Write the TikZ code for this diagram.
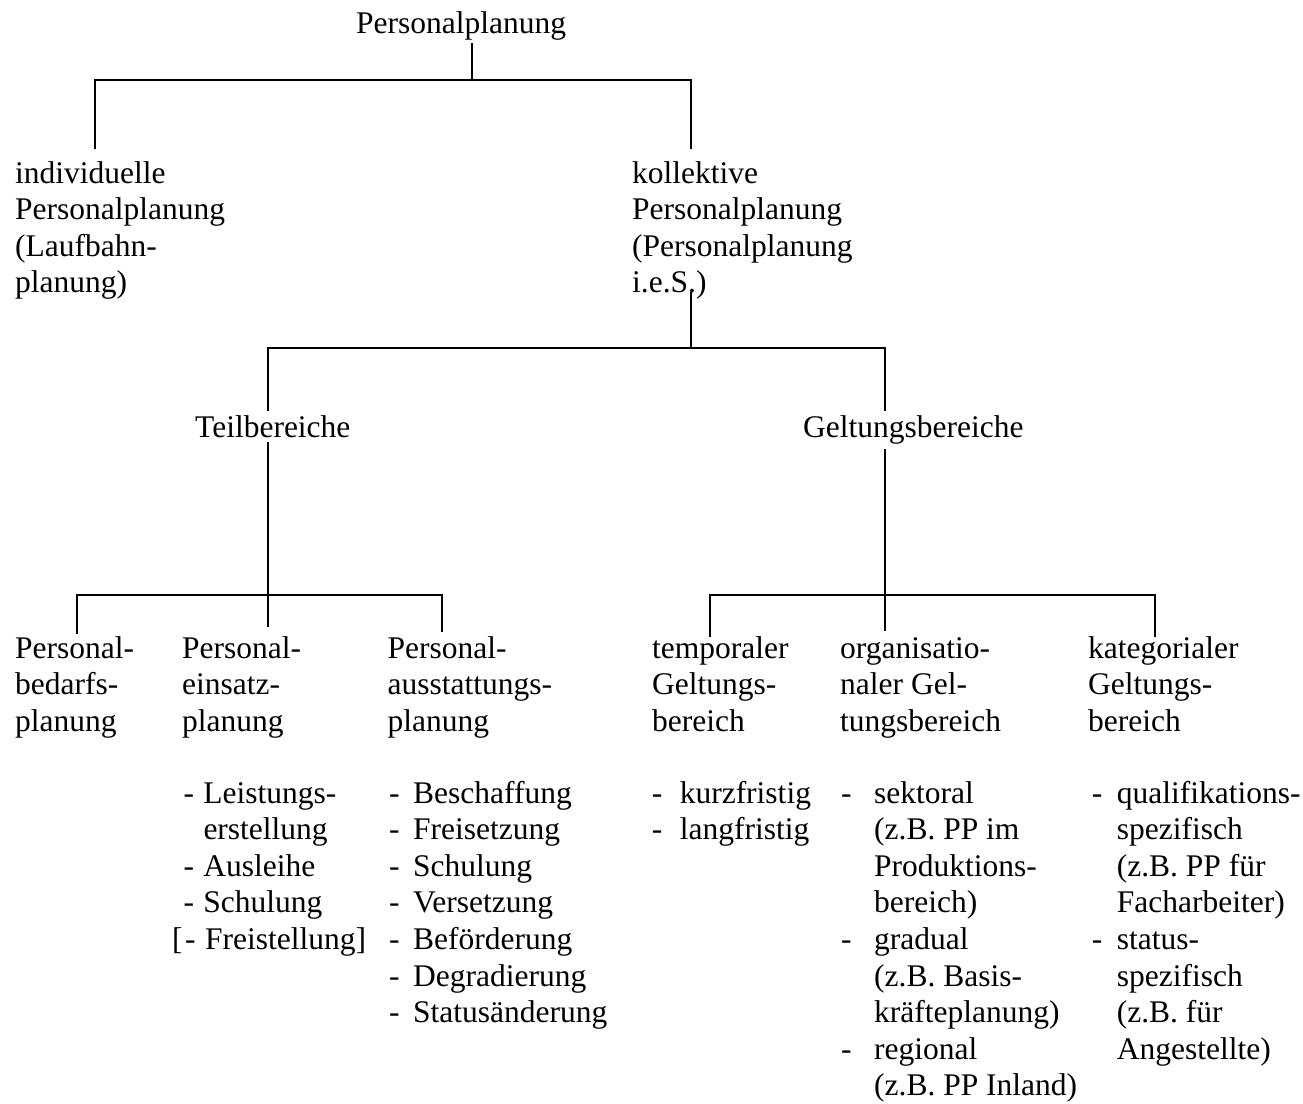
\documentclass[tikz,border=0pt]{standalone}
\usepackage{fontspec}
\setmainfont{Liberation Serif}
\newcommand\diagfont{\fontsize{31.5}{36.6}\selectfont}
\newcommand\ml[1]{\begin{tabular}[t]{@{}l@{}}#1\end{tabular}}
\newcommand\di[2]{\makebox[#1][l]{-}#2}
\begin{document}
\begin{tikzpicture}[x=1pt,y=-1pt,
  txt/.style={font=\diagfont, inner sep=0pt, anchor=base west},
  conn/.style={line width=2pt, line join=miter, line cap=rect},
  thin conn/.style={line width=1.6pt, line join=miter, line cap=rect}]
\useasboundingbox (0,0) rectangle (1303,1103);

% texts
\node[txt] (root) at (356,33) {Personalplanung};
\node[txt] (ind) at (15,183) {\ml{individuelle\\Personalplanung\\(Laufbahn-\\planung)}};
\node[txt] (kol) at (632,183) {\ml{kollektive\\Personalplanung\\(Personalplanung\\i.e.S.)}};
\node[txt] (teil) at (195,437) {Teilbereiche};
\node[txt] (gelt) at (803,437) {Geltungsbereiche};

\node[txt] (bed) at (15,658) {\ml{Personal-\\bedarfs-\\planung}};
\node[txt] (ein) at (182,658) {\ml{Personal-\\einsatz-\\planung}};
\node[txt] (aus) at (387.5,658) {\ml{Personal-\\ausstattungs-\\planung}};
\node[txt] (tmp) at (652,658) {\ml{temporaler\\Geltungs-\\bereich}};
\node[txt] (org) at (840,658) {\ml{organisatio-\\naler Gel-\\tungsbereich}};
\node[txt] (kat) at (1088,658) {\ml{kategorialer\\Geltungs-\\bereich}};

\node[txt] (einL) at (183.3,803) {\ml{\di{20pt}{Leistungs-}\\\hspace*{20pt}erstellung\\\di{20pt}{Ausleihe}\\\di{20pt}{Schulung}\\\kern1.7pt\llap{[\kern2.5pt}\di{20pt}{Freistellung]}}};
\node[txt] (ausL) at (389,803) {\ml{\di{24pt}{Beschaffung}\\\di{24pt}{Freisetzung}\\\di{24pt}{Schulung}\\\di{24pt}{Versetzung}\\\di{24pt}{Beförderung}\\\di{24pt}{Degradierung}\\\di{24pt}{Statusänderung}}};
\node[txt] (tmpL) at (651.6,803) {\ml{\di{28pt}{kurzfristig}\\\di{28pt}{langfristig}}};
\node[txt] (orgL) at (841,803) {\ml{\di{33pt}{sektoral}\\\hspace*{33pt}(z.B. PP im\\\hspace*{33pt}Produktions-\\\hspace*{33pt}bereich)\\\di{33pt}{gradual}\\\hspace*{33pt}(z.B. Basis-\\\hspace*{33pt}kräfteplanung)\\\di{33pt}{regional}\\\hspace*{33pt}(z.B. PP Inland)}};
\node[txt] (katL) at (1091.6,803) {\ml{\di{25pt}{qualifikations-}\\\hspace*{25pt}spezifisch\\\hspace*{25pt}(z.B. PP für\\\hspace*{25pt}Facharbeiter)\\\di{25pt}{status-}\\\hspace*{25pt}spezifisch\\\hspace*{25pt}(z.B. für\\\hspace*{25pt}Angestellte)}};

% connector points
\coordinate (root-s) at (472,44);
\coordinate (j1) at (472,80);
\coordinate (ind-n) at (95,148);
\coordinate (kol-n) at (691,148);
\coordinate (kol-s) at (691,293);
\coordinate (j2) at (691,348);
\coordinate (teil-n) at (268,410);
\coordinate (gelt-n) at (885,410);
\coordinate (teil-s) at (268,443);
\coordinate (j3) at (268,595);
\coordinate (bed-n) at (77,633);
\coordinate (ein-n) at (268,626);
\coordinate (aus-n) at (442,631);
\coordinate (gelt-s) at (885,450);
\coordinate (j4) at (885,595);
\coordinate (tmp-n) at (710,636);
\coordinate (org-n) at (885,630);
\coordinate (kat-n) at (1155,636);

% connectors
\draw[conn] (root-s) -- (j1);
\draw[conn] (ind-n) -- (ind-n |- j1) -- (kol-n |- j1) -- (kol-n);
\draw[conn] (kol-s) -- (j2);
\draw[conn] (teil-n) -- (teil-n |- j2) -- (gelt-n |- j2) -- (gelt-n);
\draw[conn] (teil-s) -- (ein-n);
\draw[conn] (bed-n) -- (bed-n |- j3) -- (aus-n |- j3) -- (aus-n);
\draw[thin conn] (gelt-s) -- (org-n);
\draw[thin conn] (tmp-n) -- (tmp-n |- j4) -- (kat-n |- j4) -- (kat-n);
\end{tikzpicture}
\end{document}
